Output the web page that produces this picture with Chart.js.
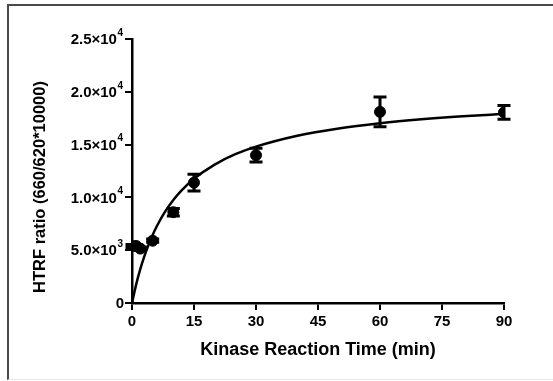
<!DOCTYPE html>
<html>
<head>
<meta charset="utf-8">
<script src="https://cdn.jsdelivr.net/npm/chart.js@4"></script>
<style>
    html, body { margin: 0; padding: 0; background: #fff; }
    #wrap { position: relative; width: 553px; height: 381px; }
    #frame {
        position: absolute; left: 7px; top: 4px; right: 0; bottom: 1px;
        border-left: 2px solid #4a4a4a; border-top: 2px solid #4a4a4a;
        border-bottom: 1px solid #e8e8e8; pointer-events: none;
    }
</style>
</head>
<body>
<div id="wrap">
    <canvas id="kinaseChart" width="553" height="381"></canvas>
    <div id="frame"></div>
</div>
<script>
// measured points (mean +/- error)
const times = [0, 1, 2, 5, 10, 15, 30, 60, 90];
const means = [5400, 5400, 5150, 5900, 8600, 11400, 14000, 18100, 18050];
const errs = [150, 150, 150, 150, 350, 800, 650, 1400, 650];

// fitted curve
const curveX = [0, 1, 2, 3, 4, 5, 6, 8, 10, 12, 15, 20, 25, 30, 40, 50, 60, 70, 80, 90];
const curveY = [0, 1740, 3200, 4440, 5520, 6450, 7270, 8650, 9760, 10670, 11770, 13110, 14090, 14810, 15840, 16530, 17020, 17390, 17680, 17910];

const xTicks = [0, 15, 30, 45, 60, 75, 90];
const yTicks = [0, 5000, 10000, 15000, 20000, 25000];
// tick label = mantissa "×10" exponent
const yMantissa = ['0', '5.0', '1.0', '1.5', '2.0', '2.5'];
const yExponent = ['', '3', '4', '4', '4', '4'];
const yTitle = 'HTRF ratio (660/620*10000)';

const FONT = 'Liberation Sans, Arial, sans-serif';

const errorBars = {
    id: 'errorBars',
    afterDatasetsDraw(chart) {
        const ctx = chart.ctx;
        const xs = chart.scales.x, ys = chart.scales.y;
        ctx.save();
        ctx.strokeStyle = '#000';
        ctx.lineWidth = 3;
        times.forEach(function (t, i) {
            const px = xs.getPixelForValue(t);
            const top = ys.getPixelForValue(means[i] + errs[i]);
            const bot = ys.getPixelForValue(means[i] - errs[i]);
            ctx.beginPath();
            ctx.moveTo(px, top);
            ctx.lineTo(px, bot);
            ctx.moveTo(px - 6.5, top);
            ctx.lineTo(px + 6.5, top);
            ctx.moveTo(px - 6.5, bot);
            ctx.lineTo(px + 6.5, bot);
            ctx.stroke();
        });
        ctx.restore();
    }
};

// y tick labels with raised exponents, and the y title
const yLabels = {
    id: 'yLabels',
    afterDraw(chart) {
        const ctx = chart.ctx;
        const ys = chart.scales.y;
        const right = chart.chartArea.left - 9;
        ctx.save();
        ctx.fillStyle = '#000';
        ctx.textBaseline = 'middle';
        yTicks.forEach(function (v, i) {
            const py = ys.getPixelForValue(v);
            let x = right;
            if (yExponent[i]) {
                ctx.font = 'bold 10px ' + FONT;
                ctx.textAlign = 'right';
                ctx.fillText(yExponent[i], x, py - 6);
                x -= ctx.measureText(yExponent[i]).width + 0.5;
                ctx.font = 'bold 15px ' + FONT;
                ctx.fillText(yMantissa[i] + '×10', x, py + 1);
            } else {
                ctx.font = 'bold 15px ' + FONT;
                ctx.textAlign = 'right';
                ctx.fillText(yMantissa[i], x + 1, py + 1);
            }
        });
        ctx.translate(40, 187);
        ctx.rotate(-Math.PI / 2);
        ctx.font = 'bold 16.5px ' + FONT;
        ctx.textAlign = 'center';
        ctx.fillText(yTitle, 0, 0);
        ctx.restore();
    }
};

new Chart(document.getElementById('kinaseChart').getContext('2d'), {
    type: 'scatter',
    data: {
        datasets: [
            {
                label: 'fit',
                data: curveX.map((x, i) => ({ x: x, y: curveY[i] })),
                showLine: true,
                borderColor: '#000',
                borderWidth: 2.5,
                pointRadius: 0,
                cubicInterpolationMode: 'monotone'
            },
            {
                label: 'HTRF',
                data: times.map((t, i) => ({ x: t, y: means[i] })),
                backgroundColor: '#000',
                borderColor: '#000',
                pointRadius: 5.5,
                pointHoverRadius: 5.5
            }
        ]
    },
    options: {
        responsive: false,
        animation: false,
        layout: { padding: { left: 0, top: 39, right: 49, bottom: 0 } },
        plugins: { legend: { display: false }, tooltip: { enabled: false } },
        scales: {
            x: {
                type: 'linear',
                min: 0,
                max: 90,
                afterBuildTicks: function (scale) {
                    scale.ticks = xTicks.map(v => ({ value: v }));
                },
                afterFit: function (scale) { scale.height = 78; },
                ticks: { color: '#000', font: { family: FONT, size: 15, weight: 'bold' }, padding: 3, maxRotation: 0 },
                grid: { drawOnChartArea: false, color: '#000', lineWidth: 2, tickLength: 7 },
                border: { color: '#000', width: 2.5 },
                title: {
                    display: true,
                    text: 'Kinase Reaction Time (min)',
                    color: '#000',
                    font: { family: FONT, size: 18, weight: 'bold' },
                    padding: { top: 0, bottom: 20 }
                }
            },
            y: {
                type: 'linear',
                min: 0,
                max: 25000,
                afterBuildTicks: function (scale) {
                    scale.ticks = yTicks.map(v => ({ value: v }));
                },
                afterFit: function (scale) { scale.width = 132; },
                ticks: { display: false },
                grid: { drawOnChartArea: false, color: '#000', lineWidth: 2, tickLength: 7 },
                border: { color: '#000', width: 2.5 },
                title: { display: false }
            }
        }
    },
    plugins: [errorBars, yLabels]
});
</script>
</body>
</html>
